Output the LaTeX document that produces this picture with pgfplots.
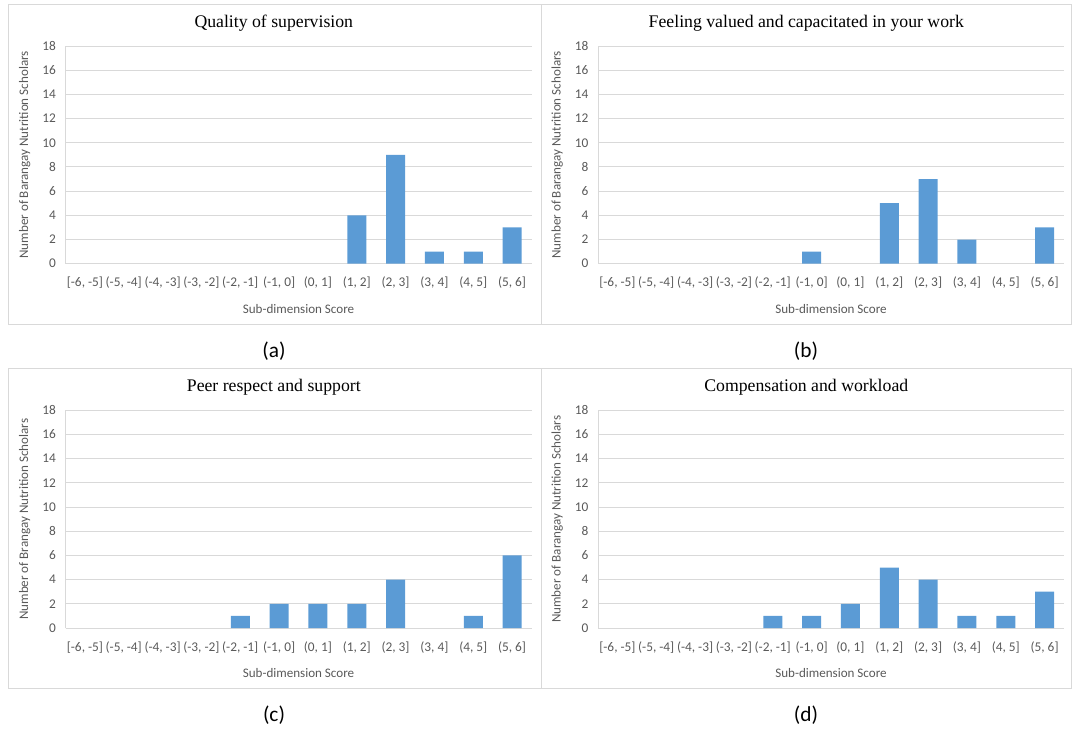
\documentclass[border=0pt]{standalone}
\usepackage{fontspec}
\setmainfont{Carlito}
\newfontfamily\timesf{Liberation Serif}
\usepackage{pgfplots}
\pgfplotsset{compat=1.18}
\definecolor{barblue}{HTML}{5B9BD5}
\definecolor{gridgray}{HTML}{D9D9D9}
\definecolor{txtgray}{HTML}{595959}
\pgfplotsset{
  panel/.style={
    scale only axis,
    width=349.5pt, height=163.275pt,
    anchor=south west,
    xmin=-0.5, xmax=11.5, ymin=0, ymax=18,
    ytick={0,2,...,18},
    xtick={0,...,11},
    xticklabels={{[-6, -5]},{(-5, -4]},{(-4, -3]},{(-3, -2]},{(-2, -1]},{(-1, 0]},{(0, 1]},{(1, 2]},{(2, 3]},{(3, 4]},{(4, 5]},{(5, 6]}},
    /pgf/number format/assume math mode=true,
    axis lines*=left,
    axis line style={gridgray, line width=0.75pt, -},
    major tick length=0pt,
    ymajorgrids, grid style={gridgray, line width=0.75pt},
    tick label style={font=\fontsize{10}{12}\selectfont, text=txtgray},
    xticklabel style={anchor=base, inner sep=0pt, yshift=-17.25pt},
    yticklabel style={anchor=east, inner sep=0pt, xshift=-7pt},
    label style={font=\fontsize{9.8}{12}\selectfont, text=txtgray},
    xlabel={Sub-dimension Score},
    xlabel style={at={(axis description cs:0.5,-0.208)}, anchor=center},
    ylabel style={at={(axis description cs:-0.0873,0.5)}, anchor=center, rotate=0},
    title style={font=\timesf\fontsize{13.3}{16}\selectfont, at={(axis description cs:0.447,1.068)}, anchor=center},
    ybar, bar width=14.25pt,
    y filter/.expression={y==0 ? nan : y},
    clip=false,
  },
  bars/.style={fill=barblue, draw=none},
}
\begin{document}
\begin{tikzpicture}
\begin{scope}[x=0.75pt,y=-0.75pt]
\useasboundingbox (0,0) rectangle (1075,732);
\draw[gridgray, line width=0.75pt] (8,4) rectangle (541,324);
\draw[gridgray, line width=0.75pt] (541,4) rectangle (1071,324);
\draw[gridgray, line width=0.75pt] (8,368) rectangle (541,688);
\draw[gridgray, line width=0.75pt] (541,368) rectangle (1071,688);
\node[font=\fontsize{16}{18}\selectfont] at (274,351) {(a)};
\node[font=\fontsize{16}{18}\selectfont] at (806,351) {(b)};
\node[font=\fontsize{16}{18}\selectfont] at (274,715) {(c)};
\node[font=\fontsize{16}{18}\selectfont] at (806,715) {(d)};
\end{scope}

\begin{axis}[panel, at={(49.125pt,-197.775pt)},
  title={Quality of supervision},
  ylabel={Number of Barangay Nutrition Scholars}]
\addplot[bars] coordinates {(0,0) (1,0) (2,0) (3,0) (4,0) (5,0) (6,0) (7,4) (8,9) (9,1) (10,1) (11,3)};
\end{axis}

\begin{axis}[panel, at={(448.5pt,-197.775pt)},
  title={Feeling valued and capacitated in your work},
  ylabel={Number of Barangay Nutrition Scholars}]
\addplot[bars] coordinates {(0,0) (1,0) (2,0) (3,0) (4,0) (5,1) (6,0) (7,5) (8,7) (9,2) (10,0) (11,3)};
\end{axis}

\begin{axis}[panel, at={(49.125pt,-471pt)},
  title={Peer respect and support},
  ylabel={Number of Brangay Nutrition Scholars}]
\addplot[bars] coordinates {(0,0) (1,0) (2,0) (3,0) (4,1) (5,2) (6,2) (7,2) (8,4) (9,0) (10,1) (11,6)};
\end{axis}

\begin{axis}[panel, at={(448.5pt,-471pt)},
  title={Compensation and workload},
  ylabel={Number of Barangay Nutrition Scholars}]
\addplot[bars] coordinates {(0,0) (1,0) (2,0) (3,0) (4,1) (5,1) (6,2) (7,5) (8,4) (9,1) (10,1) (11,3)};
\end{axis}
\end{tikzpicture}
\end{document}
